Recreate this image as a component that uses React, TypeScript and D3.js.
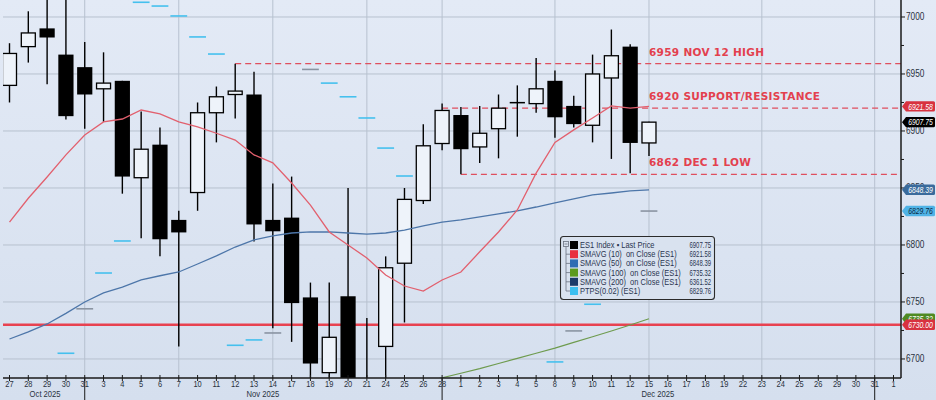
import React from 'react';
import * as d3 from 'd3';

// ---------- data ----------
const dayKeys = [
  '2025-10-27','2025-10-28','2025-10-29','2025-10-30','2025-10-31',
  '2025-11-03','2025-11-04','2025-11-05','2025-11-06','2025-11-07','2025-11-10','2025-11-11','2025-11-12','2025-11-13','2025-11-14',
  '2025-11-17','2025-11-18','2025-11-19','2025-11-20','2025-11-21','2025-11-24','2025-11-25','2025-11-26','2025-11-28',
  '2025-12-01','2025-12-02','2025-12-03','2025-12-04','2025-12-05','2025-12-08','2025-12-09','2025-12-10','2025-12-11','2025-12-12',
  '2025-12-15','2025-12-16','2025-12-17','2025-12-18','2025-12-19','2025-12-22','2025-12-23','2025-12-24','2025-12-25','2025-12-26',
  '2025-12-29','2025-12-30','2025-12-31','2026-01-01',
];
const dayLabels = dayKeys.map((k) => String(+k.slice(8)));

const opens  = [6940,6974,6990,6967,6956,6937,6944,6859,6888,6822,6846,6916,6932,6932,6822,6824,6754,6688,6755,6620,6711,6784,6839,6889,6914,6886,6902,6925.5,6924,6944,6922,6905,6946.5,6974,6889.5];
const highs  = [6977,7005,7030,7025,6978,6969,6944,6917,6903,6830,6925,6939,6959,6952,6854,6860,6767,6767,6850,6736,6790,6850,6906,6924,6921,6922,6932,6940,6964,6953,6931,6967,6989,6976,6908];
const lows   = [6925,6960,6941,6910,6902,6908,6845,6806,6790,6711,6830,6890,6911,6803,6727,6715,6670,6660,6630,6590,6680,6732,6836,6883,6862,6872,6876,6895,6916,6894,6903,6890,6875.5,6863,6878];
const closes = [6968,6986,6982,6913,6932,6942,6860,6884,6805,6811,6916,6930,6935,6818,6812,6749,6696,6719,6675,6670,6780,6840,6887,6918,6884,6898,6920,6924.5,6937,6912,6906,6950,6966,6889.5,6907.75];

const sma10 = [6820,6841,6859.6,6879,6896.5,6908,6910.5,6918.4,6915,6908,6903.5,6898,6892,6879,6872,6854.4,6835,6811.4,6800,6788.6,6773.7,6764,6759.6,6769.3,6776.3,6794,6811.4,6830.7,6863,6890,6901,6911.4,6922,6920,6921.58];
const sma50 = [6717.5,6723.7,6730.7,6740,6750,6758,6763,6769.3,6773,6776.3,6783.3,6790.4,6798.2,6804.4,6808,6810.5,6811.4,6811.4,6810.5,6809.6,6810.5,6813,6816.7,6820,6822,6824.6,6827.2,6830,6833.3,6837,6840.4,6844,6845.6,6847.4,6848.39];
const sma100: (number | null)[] = [null,null,null,null,null,null,null,null,null,null,null,null,null,null,null,null,null,null,null,null,null,6675,6679,6683.5,6687.5,6691.5,6696,6700.5,6705,6709.5,6714.5,6719.5,6724.5,6729.8,6735.32];
const sar: (number | null)[] = [null,null,null,6705,6744,6775.4,6803.5,7012.9,7009.6,7000.9,6982.5,6967.5,6712,6716.7,6722.8,null,6954,6942,6930,6911.4,6885,6860.5,null,null,null,null,null,null,null,6697.4,6724.6,6748,6775,6803.5,6829.76];
const sarAlt = [0,0,0,0,1,0,0,0,0,0,0,0,0,0,1,0,1,0,0,0,0,0,0,0,0,0,0,0,0,0,1,0,0,0,1];

const levelValues = [6959, 6920, 6862];
const levelStarts = ['2025-11-12', '2025-11-28', '2025-12-01'];
const levelTexts = ['6959 NOV 12 HIGH', '6920 SUPPORT/RESISTANCE', '6862 DEC 1 LOW'];
const supportLine = 6730;

const gridDays = ['2025-10-31','2025-11-07','2025-11-14','2025-11-21','2025-11-28','2025-12-08','2025-12-15','2025-12-23','2025-12-31'];
const monthEnds = ['2025-10-31', '2025-11-28', '2025-12-31'];
const monthNames = ['Oct 2025', 'Nov 2025', 'Dec 2025'];
const monthFirst = ['2025-10-27', '2025-11-03', '2025-12-01'];
const monthLast = ['2025-10-31', '2025-11-28', '2025-12-31'];

const yTicks = [6700, 6750, 6800, 6850, 6900, 6950, 7000];
const yMinor = [6725, 6775, 6825, 6875, 6925, 6975];

const legendNames = ['ES1 Index \u25AA Last Price', 'SMAVG (10)  on Close (ES1)', 'SMAVG (50)  on Close (ES1)', 'SMAVG (100)  on Close (ES1)', 'SMAVG (200)  on Close (ES1)', 'PTPS(0.02) (ES1)'];
const legendValues = ['6907.75', '6921.58', '6848.39', '6735.32', '6361.52', '6829.76'];

const tagValues = [6921.58, 6907.75, 6848.39, 6829.76, 6735.32, 6730.0];

// ---------- styles ----------
const W = 936, H = 400;
const PL = 3, PR = 901, PT = 0, PB = 378;
const FONT = "'Liberation Sans', Arial, sans-serif";
const legendColors = ['#000000', '#e8303f', '#2f6db3', '#5b9a1f', '#1c3b6a', '#3cbff0'];
const tagFills = ['#d8323f', '#000000', '#3a6b9c', '#4fb3e6', '#4f8a22', '#d8323f'];
const tagText = ['#ffffff', '#ffffff', '#ffffff', '#0b2a45', '#ffffff', '#ffffff'];

type NTProps = {
  x: number;
  y: number;
  sx?: number;
  size?: number;
  anchor?: 'start' | 'middle' | 'end';
  fill?: string;
  italic?: boolean;
  children: React.ReactNode;
};
function NText({ x, y, sx = 0.82, size = 9, anchor = 'start', fill = '#2a3240', italic = false, children }: NTProps) {
  return (
    <text
      transform={`translate(${x},${y}) scale(${sx},1)`}
      textAnchor={anchor}
      fontFamily={FONT}
      fontSize={size}
      fontStyle={italic ? 'italic' : 'normal'}
      fill={fill}
      style={{ whiteSpace: 'pre' }}
    >
      {children}
    </text>
  );
}

export default function App() {
  const x = d3.scalePoint<string>().domain(dayKeys).range([9.5, 893.5]);
  const y = d3.scaleLinear().domain([6683.3, 7014.9]).range([PB, PT]);
  const step = x.step();
  const xi = (i: number) => x(dayKeys[i]) as number;

  const lineGen = d3
    .line<number | null>()
    .defined((d) => d != null)
    .x((_, i) => xi(i))
    .y((d) => y(d as number));

  const bodyW = 14;

  return (
    <svg width={W} height={H} style={{ position: 'absolute', left: 0, top: 0, display: 'block' }}>
      <defs>
        <linearGradient id="bg" x1="0" y1="0" x2="0" y2="1">
          <stop offset="0" stopColor="#e3eaf6" />
          <stop offset="1" stopColor="#d5dfee" />
        </linearGradient>
        <clipPath id="plot">
          <rect x={PL} y={PT} width={PR - PL} height={PB - PT} />
        </clipPath>
      </defs>
      <rect x={0} y={0} width={W} height={H} fill="url(#bg)" />

      {/* grid */}
      {yTicks.map((t) => (
        <line key={'gy' + t} x1={PL} x2={PR} y1={y(t)} y2={y(t)} stroke="#b7c1cf" strokeWidth={1} />
      ))}
      {gridDays.map((k) => (
        <line key={'gx' + k} x1={x(k)} x2={x(k)} y1={PT} y2={PB} stroke="#b7c1cf" strokeWidth={1} />
      ))}

      <g clipPath="url(#plot)">
        {/* support line */}
        <line x1={PL} x2={PR} y1={y(supportLine)} y2={y(supportLine)} stroke="#e84250" strokeWidth={2.6} />

        {/* level dashed lines */}
        {levelValues.map((v, i) => (
          <line key={'lv' + i} x1={x(levelStarts[i])} x2={PR} y1={y(v)} y2={y(v)} stroke="#df4f5e" strokeWidth={1.2} strokeDasharray="6,4" />
        ))}

        {/* SAR dashes */}
        {sar.map((v, i) =>
          v == null ? null : (
            <line key={'sar' + i} x1={xi(i) - step / 2 + 1} x2={xi(i) + step / 2 - 1} y1={y(v)} y2={y(v)} stroke={sarAlt[i] ? '#8a94a2' : '#45c0ee'} strokeWidth={1.6} />
          )
        )}

        {/* candles */}
        {opens.map((o, i) => {
          const c = closes[i];
          const up = c >= o;
          const cx = xi(i);
          const top = y(Math.max(o, c));
          const bot = y(Math.min(o, c));
          return (
            <g key={'c' + i}>
              <line x1={cx} x2={cx} y1={y(highs[i])} y2={y(lows[i])} stroke="#000" strokeWidth={1.4} />
              {up ? (
                <rect x={cx - bodyW / 2} y={top} width={bodyW} height={Math.max(1, bot - top)} fill="#eef3fa" stroke="#000" strokeWidth={1.3} />
              ) : (
                <rect x={cx - bodyW / 2 - 0.6} y={top} width={bodyW + 1.2} height={Math.max(1.5, bot - top)} fill="#000" />
              )}
            </g>
          );
        })}

        {/* moving averages */}
        <path d={lineGen(sma100) || ''} fill="none" stroke="#6e9b4e" strokeWidth={1.2} />
        <path d={lineGen(sma50) || ''} fill="none" stroke="#4d76a9" strokeWidth={1.3} />
        <path d={lineGen(sma10) || ''} fill="none" stroke="#e2606e" strokeWidth={1.3} />
      </g>

      {/* level annotations */}
      {levelTexts.map((t, i) => (
        <text key={'lt' + i} x={649} y={y(levelValues[i]) - 8} fill="#e3404e" fontFamily="'DejaVu Sans', sans-serif" fontWeight="bold" fontSize={10.5} letterSpacing={0.3}>
          {t}
        </text>
      ))}

      {/* x axis */}
      <line x1={PL} x2={PR} y1={PB} y2={PB} stroke="#1a1a1a" strokeWidth={1.5} />
      {dayKeys.map((k, i) => (
        <g key={'xt' + k}>
          <line x1={x(k)} x2={x(k)} y1={PB - 3} y2={PB + 3} stroke="#1a1a1a" strokeWidth={1} />
          <NText x={x(k) as number} y={PB + 9} anchor="middle" size={8.5} sx={0.88}>
            {dayLabels[i]}
          </NText>
        </g>
      ))}
      {monthEnds.map((k) => (
        <line key={'me' + k} x1={x(k)} x2={x(k)} y1={PB} y2={H} stroke="#1a1a1a" strokeWidth={1} />
      ))}
      {monthNames.map((m, i) => {
        const mid = ((x(monthFirst[i]) as number) + (x(monthLast[i]) as number)) / 2 - (i === 0 ? 2 : 10);
        return (
          <NText key={'mn' + m} x={mid} y={PB + 19} anchor="middle" size={8.5} sx={0.9}>
            {m}
          </NText>
        );
      })}

      {/* y axis */}
      <line x1={PR} x2={PR} y1={PT} y2={PB} stroke="#1a1a1a" strokeWidth={1.5} />
      {yMinor.map((t) => (
        <line key={'ym' + t} x1={PR} x2={PR + 3} y1={y(t)} y2={y(t)} stroke="#1a1a1a" strokeWidth={1} />
      ))}
      {yTicks.map((t) => (
        <g key={'yt' + t}>
          <line x1={PR} x2={PR + 4} y1={y(t)} y2={y(t)} stroke="#1a1a1a" strokeWidth={1} />
          <NText x={PR + 5} y={y(t) + 3.5} size={10} sx={0.83}>
            {t}
          </NText>
        </g>
      ))}

      {/* right-axis value tags */}
      {tagValues.map((v, i) => {
        const ty = y(v);
        const x0 = PR + 1, x1 = PR + 5, x2 = W - 1;
        const h = 5.2;
        const d = `M${x0},${ty} L${x1},${ty - h} L${x2 - 1.5},${ty - h} Q${x2},${ty - h} ${x2},${ty - h + 1.5} L${x2},${ty + h - 1.5} Q${x2},${ty + h} ${x2 - 1.5},${ty + h} L${x1},${ty + h} Z`;
        return (
          <g key={'tag' + i}>
            <path d={d} fill={tagFills[i]} />
            <NText x={(x1 + x2) / 2} y={ty + 3.2} anchor="middle" size={9} sx={0.76} italic fill={tagText[i]}>
              {v.toFixed(2)}
            </NText>
          </g>
        );
      })}

      {/* legend */}
      <g>
        <rect x={560.5} y={236.5} width={154} height={63} rx={3} fill="#d9e2ef" stroke="#2b2b2b" strokeWidth={1.1} />
        <rect x={563.5} y={241.5} width={5} height={5} fill="none" stroke="#6a7280" strokeWidth={0.8} />
        <line x1={564.5} x2={567.5} y1={244} y2={244} stroke="#6a7280" strokeWidth={0.8} />
        <line x1={566} x2={566} y1={246.5} y2={291} stroke="#6a7280" strokeWidth={0.8} />
        {legendNames.map((n, i) => {
          const ry = 245 + i * 9.2;
          return (
            <g key={'lg' + i}>
              {i > 0 && <line x1={566} x2={570} y1={ry} y2={ry} stroke="#6a7280" strokeWidth={0.8} />}
              <rect x={570} y={ry - 4} width={8} height={8} fill={legendColors[i]} />
              <NText x={580} y={ry + 3} size={8.5} sx={0.88} fill="#2a3550">
                {n}
              </NText>
              <NText x={711} y={ry + 3} anchor="end" size={8.5} sx={0.7} fill="#2a3550">
                {legendValues[i]}
              </NText>
            </g>
          );
        })}
      </g>
    </svg>
  );
}
